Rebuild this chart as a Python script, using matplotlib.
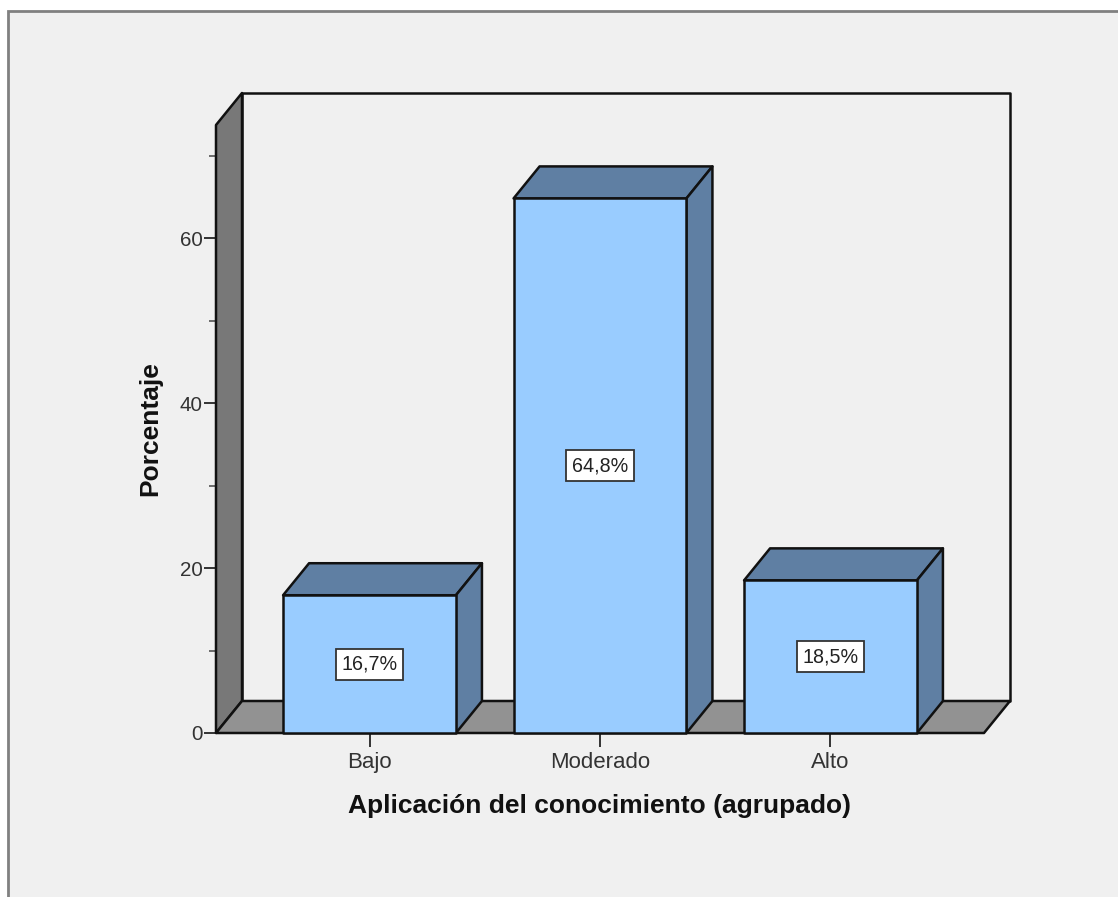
#!/usr/bin/env python3

import matplotlib
matplotlib.use("Agg")
import matplotlib.pyplot as plt
from matplotlib.patches import Polygon, Rectangle

categories = ["Bajo", "Moderado", "Alto"]
percentages = [16.7, 64.8, 18.5]
value_labels = ["16,7%", "64,8%", "18,5%"]
major_ticks = [0, 20, 40, 60]
minor_ticks = [10, 30, 50, 70]

BAR_WIDTH = 0.75
DEPTH_X = 0.1128
DEPTH_Y = 3.88
X_MIN, X_MAX = -0.666, 2.666
Y_MAX = 73.7
FONT = "Liberation Sans"


def face(ax, points, color, zorder):
    ax.add_patch(Polygon(points, closed=True, facecolor=color, edgecolor="#111111",
                         linewidth=1.8, joinstyle="round", zorder=zorder, clip_on=False))


def draw_box(ax):
    dx, dy = DEPTH_X, DEPTH_Y
    # back wall, side wall and floor of the 3D frame
    face(ax, [(X_MIN + dx, dy), (X_MAX + dx, dy), (X_MAX + dx, Y_MAX + dy), (X_MIN + dx, Y_MAX + dy)], "#f0f0f0", 1)
    face(ax, [(X_MIN, 0), (X_MIN + dx, dy), (X_MIN + dx, Y_MAX + dy), (X_MIN, Y_MAX)], "#787878", 2)
    face(ax, [(X_MIN, 0), (X_MAX, 0), (X_MAX + dx, dy), (X_MIN + dx, dy)], "#929292", 2)


def draw_bar(ax, x, value, label, zorder):
    dx, dy = DEPTH_X, DEPTH_Y
    left, right = x - BAR_WIDTH / 2, x + BAR_WIDTH / 2
    face(ax, [(left, value), (right, value), (right + dx, value + dy), (left + dx, value + dy)], "#5f7fa3", zorder)
    face(ax, [(right, 0), (right + dx, dy), (right + dx, value + dy), (right, value)], "#5f7fa3", zorder)
    face(ax, [(left, 0), (right, 0), (right, value), (left, value)], "#99ccff", zorder + 0.1)
    ax.text(x, value / 2, label, ha="center", va="center", fontsize=14.2, family=FONT, color="#222222",
            zorder=zorder + 0.2,
            bbox=dict(boxstyle="square,pad=0.3", facecolor="white", edgecolor="#333333", linewidth=1.3))


def main():
    fig = plt.figure(figsize=(11.18, 8.97), dpi=100, facecolor="white")
    # grey panel with its outline running off the right and bottom edges
    fig.add_artist(Rectangle((8 / 1118, -0.01), 1.02, 1 - 11 / 897 + 0.01, transform=fig.transFigure,
                             facecolor="#f0f0f0", edgecolor="#808080", linewidth=2, zorder=-1))

    ax = fig.add_axes([216 / 1118, 1 - 733 / 897, (984 - 216) / 1118, (733 - 125) / 897])
    ax.set_xlim(X_MIN, X_MAX)
    ax.set_ylim(0, Y_MAX)
    ax.patch.set_visible(False)
    for spine in ax.spines.values():
        spine.set_visible(False)

    draw_box(ax)
    for i, (value, label) in enumerate(zip(percentages, value_labels)):
        draw_bar(ax, i, value, label, 3 + i)

    ax.set_xticks(range(len(categories)))
    ax.set_xticklabels(categories, fontsize=16, family=FONT, color="#333333")
    ax.set_yticks(major_ticks)
    ax.set_yticklabels([str(t) for t in major_ticks], fontsize=14.8, family=FONT, color="#333333")
    ax.set_yticks(minor_ticks, minor=True)
    ax.tick_params(axis="x", length=10, width=1.4, color="#333333", pad=3.5)
    ax.tick_params(axis="y", which="major", length=8.6, width=1.4, color="#333333", pad=1)
    ax.tick_params(axis="y", which="minor", length=5, width=1.2, color="#555555")

    fig.text(599 / 1118, 1 - 806 / 897, "Aplicación del conocimiento (agrupado)", ha="center", va="center",
             fontsize=19, fontweight="bold", family=FONT, color="#111111")
    fig.text(150 / 1118, 1 - 429 / 897, "Porcentaje", ha="center", va="center", rotation=90,
             fontsize=19, fontweight="bold", family=FONT, color="#111111")

    fig.savefig("out.png", dpi=100)


if __name__ == "__main__":
    main()
